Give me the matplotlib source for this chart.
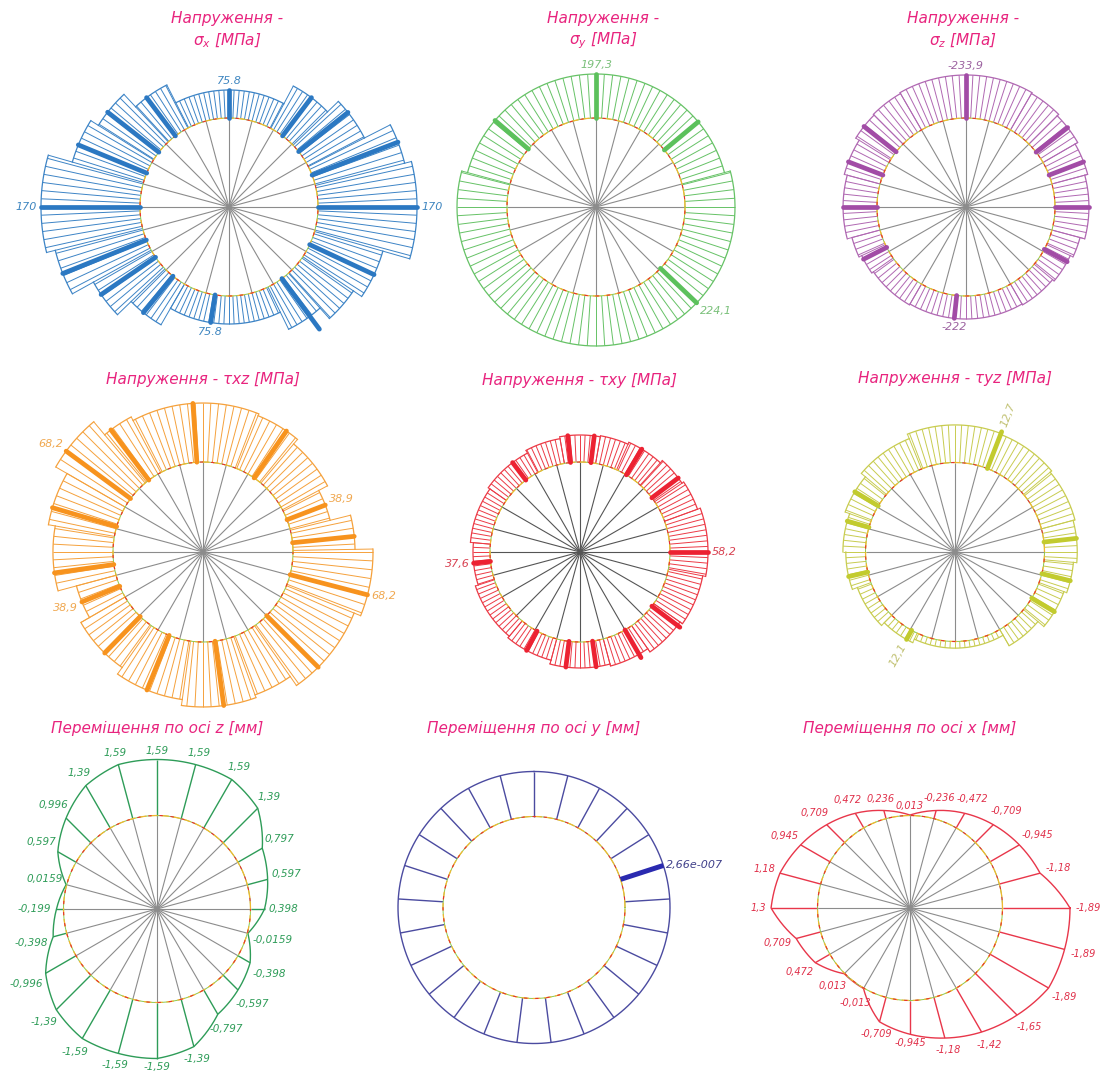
import numpy as np
import matplotlib
matplotlib.use("Agg")
import matplotlib.pyplot as plt
from matplotlib.collections import LineCollection

# ---------------- data ----------------
# Stress diagrams: element blocks are given by boundary angles (deg, CCW from +x)
# and one value per block; "peak" lists hold the highlighted radial bars.

# sigma_x, MPa
sx_edges = [-16, 14, 27, 44, 62, 117, 133, 148, 164, 194, 209, 224, 240, 296, 312, 326, 344]
sx_vals = [170, 160.7, 122.2, 102.3, 75.8, 102.3, 124.9, 136.8, 170, 158.1, 126.2, 101.0,
           75.8, 101.0, 119.6, 132.9]
sx_peak_ang = [0, 21, 38.5, 53, 90, 127, 142, 157.6, 180, 201.8, 214.4, 231, 261, 306.5, 335]
sx_peak_val = [170, 160.7, 122.2, 102.3, 75.8, 102.3, 124.9, 136.8, 170, 158.1, 126.2, 101.0,
               75.8, 122.2, 132.9]
sx_peak_lab = [1, 0, 0, 0, 1, 0, 0, 0, 1, 0, 0, 0, 1, 0, 0]

# sigma_y, MPa
sy_edges = [15, 165, 375]
sy_vals = [197.3, 224.1]
sy_peak_ang = [39.8, 90, 139.4, 316.4]
sy_peak_val = [197.3, 197.3, 197.3, 224.1]
sy_peak_lab = [0, 1, 0, 1]

# sigma_z, MPa
sz_edges = [-15, 15, 30, 45, 60, 120, 135, 148, 165, 195, 205, 215, 240, 300, 320, 335, 345]
sz_vals = [-228.5, -230.3, -232.1, -233.3, -233.9, -233.3, -232.7, -230.3, -228.5, -225.6,
           -223.8, -222.6, -222.0, -222.6, -223.8, -225.6]
sz_peak_ang = [0, 21, 38, 90, 141.7, 159, 180, 207, 264, 331.6]
sz_peak_val = [-228.5, -230.3, -232.1, -233.9, -232.7, -230.3, -228.5, -223.8, -222.0, -223.8]
sz_peak_lab = [0, 0, 0, 1, 0, 0, 0, 0, 1, 0]

# tau_xz, MPa
txz_edges = [-22, 1, 14, 28, 50, 68, 118, 130, 150, 170, 195, 210, 235, 262, 290, 305, 338]
txz_vals = [68.2, 54.7, 38.9, 46.4, 50.9, 52.4, 55.4, 68.2, 58.4, 53.2, 38.9, 46.4, 52.4,
            56.9, 54.7, 62.9]
txz_peak_ang = [5.9, 21, 55.4, 93.9, 127, 143.6, 163.6, 188, 202.4, 225.8, 247.9, 277.7, 315, 345.4]
txz_peak_val = [54.7, 38.9, 50.9, 52.4, 55.4, 68.2, 58.4, 53.2, 38.9, 46.4, 52.4, 56.9, 62.9, 68.2]
txz_peak_lab = [0, 1, 0, 0, 0, 1, 0, 0, 1, 0, 0, 0, 0, 1]

# tau_xy, MPa
txy_edges = [-11, 20, 34, 48, 66, 80, 100, 118, 145, 175, 198, 230, 255, 285, 305, 325, 349]
txy_vals = [58.2, 55.3, 53.3, 50.4, 48.4, 47.4, 45.5, 42.5, 40.5, 37.6, 40.5, 42.5, 46.4,
            48.4, 52.3, 55.3]
txy_peak_ang = [0, 37, 59, 83, 96, 127, 186, 241.5, 263, 278, 300, 323]
txy_peak_val = [58.2, 53.3, 50.4, 47.4, 47.4, 42.5, 37.6, 42.5, 46.4, 46.4, 52.3, 55.3]
txy_peak_lab = [1, 0, 0, 0, 0, 0, 1, 0, 0, 0, 0, 0]

# tau_yz, MPa
tyz_edges = [-5, 15, 40, 69, 112, 140, 160, 180, 200, 225, 245, 300, 320, 340, 355]
tyz_vals = [12.56, 12.60, 12.64, 12.66, 12.56, 12.45, 12.35, 12.29, 12.18, 12.10, 12.02,
            12.27, 12.43, 12.49]
tyz_peak_ang = [6.4, 68.8, 149, 164, 193, 241, 329, 346]
tyz_peak_val = [12.56, 12.7, 12.45, 12.35, 12.29, 12.1, 12.43, 12.49]
tyz_peak_lab = [0, 1, 0, 0, 0, 1, 0, 0]

# Displacements, mm, at nodes around the ring (deg, CCW from +x)
uz_ang = list(range(0, 360, 15))
uz_vals = [0.398, 0.597, 0.797, 1.39, 1.59, 1.59, 1.59, 1.59, 1.39, 0.996, 0.597, 0.0159,
           -0.199, -0.398, -0.996, -1.39, -1.59, -1.59, -1.59, -1.39, -0.797, -0.597,
           -0.398, -0.0159]

uy_ang = [90 - 14.4 * i for i in range(25)]
uy_vals = [2.66e-7] * 25
uy_peak = 5

ux_ang = list(range(0, 360, 15))
ux_vals = [-1.89, -1.18, -0.945, -0.709, -0.472, -0.236, 0.013, 0.236, 0.472, 0.709, 0.945,
           1.18, 1.3, 0.709, 0.472, 0.013, -0.013, -0.709, -0.945, -1.18, -1.42, -1.65,
           -1.89, -1.89]

# ---------------- styling / layout ----------------
W, H = 1107, 1073
TITLE_C = "#e8247e"
GREY = "#8c8c8c"
col_bounds = [0, 369, 738, 1107]
row_bounds = [0, 357, 715, 1073]

fig = plt.figure(figsize=(W / 100, H / 100), dpi=100)
plt.rcParams["font.family"] = ["DejaVu Sans"]


def panel_axes(col, row, cx, cy):
    x0, x1 = col_bounds[col], col_bounds[col + 1]
    y0, y1 = row_bounds[row], row_bounds[row + 1]
    ax = fig.add_axes([x0 / W, 1 - y1 / H, (x1 - x0) / W, (y1 - y0) / H])
    ax.set_xlim(x0 - cx, x1 - cx)
    ax.set_ylim(cy - y1, cy - y0)
    ax.set_axis_off()
    return ax


def radial_scale(v1, r1, v2, r2):
    k = (r2 - r1) / (v2 - v1)
    return lambda v: r1 + (np.abs(np.asarray(v, float)) - v1) * k


def fmt(v, sep=","):
    if v != 0 and abs(v) < 1e-3:
        m, e = f"{v:.2e}".split("e")
        s = f"{m}e{int(e):+04d}"
    else:
        s = f"{v:g}"
    return s.replace(".", sep)


def pol(r, ang):
    t = np.deg2rad(ang)
    return r * np.cos(t), r * np.sin(t)


def add_lines(ax, segs, color, lw, cap="butt", z=2):
    lc = LineCollection(segs, colors=color, linewidths=lw, capstyle=cap, zorder=z)
    lc.set_clip_on(False)
    ax.add_collection(lc)


def grey_spokes(ax, R, color=GREY, lw=0.8):
    segs = []
    for a in range(0, 360, 15):
        x, y = pol(R, a)
        segs.append([(0, 0), (x, y)])
    add_lines(ax, segs, color, lw, z=1)


def inner_ring(ax, R):
    t = np.linspace(0, 360, 721)
    x, y = pol(R, t)
    ax.plot(x, y, color="#8cc850", lw=0.7, zorder=3, clip_on=False)
    ax.plot(x, y, color="#f0b830", lw=0.9, ls=(0, (6, 3)), zorder=3, clip_on=False)
    ax.plot(x, y, color="#e83030", lw=0.8, ls=(3, (3, 7)), zorder=3, clip_on=False)


def place_label(ax, ang, r, text, color, pad=4, rotate=False, size=8):
    x, y = pol(r + pad, ang)
    c, s = np.cos(np.deg2rad(ang)), np.sin(np.deg2rad(ang))
    if rotate:
        rot = ang if c >= 0 else ang - 180
        ax.text(x, y, text, rotation=rot, rotation_mode="anchor",
                ha="left" if c >= 0 else "right", va="center", color=color,
                fontsize=size, style="italic", clip_on=False)
        return
    ha = "left" if c > 0.2 else ("right" if c < -0.2 else "center")
    va = "bottom" if s > 0.35 else ("top" if s < -0.35 else "center")
    ax.text(x, y, text, ha=ha, va=va, color=color, fontsize=size,
            style="italic", clip_on=False)


def place_label_centered(ax, ang, r, text, color, pad=5, size=7):
    # centre the text just outside the node, allowing for its approximate extent
    c, s = np.cos(np.deg2rad(ang)), np.sin(np.deg2rad(ang))
    px = size * 100 / 72
    tw, th = 0.55 * px * len(text), 0.75 * px
    off = pad + 0.5 * (abs(c) * tw + abs(s) * th)
    x, y = pol(r + off, ang)
    ax.text(x, y, text, ha="center", va="center", color=color, fontsize=size,
            style="italic", clip_on=False)


def stress_panel(ax, R_in, edges, vals, pk_ang, pk_val, pk_lab, scale, thin, thick,
                 lab_c, sep=",", step=2.5, spoke_c=GREY, rotate=False):
    e = np.asarray(edges, float)
    rr = scale(vals)
    grey_spokes(ax, R_in, spoke_c)
    # fine radial lines of the element mesh
    fine = np.arange(0, 360, step)
    fine = e[0] + (fine - e[0]) % 360
    idx = np.clip(np.searchsorted(e, fine, side="right") - 1, 0, len(vals) - 1)
    segs = []
    for a, i in zip(fine, idx):
        segs.append([pol(R_in, a), pol(rr[i], a)])
    # block boundaries (steps)
    for i in range(len(vals)):
        rmax = max(rr[i], rr[i - 1])
        segs.append([pol(R_in, e[i]), pol(rmax, e[i])])
    add_lines(ax, segs, thin, 0.7)
    # outer arcs
    for i in range(len(vals)):
        t = np.linspace(e[i], e[i + 1], max(4, int(abs(e[i + 1] - e[i]) * 2)))
        x, y = pol(rr[i], t)
        ax.plot(x, y, color=thin, lw=0.9, clip_on=False, zorder=2)
    # highlighted bars
    pr = scale(pk_val)
    segs = [[pol(R_in, a), pol(r, a)] for a, r in zip(pk_ang, pr)]
    add_lines(ax, segs, thick, 3.4, cap="round", z=4)
    inner_ring(ax, R_in)
    for a, v, r, lab in zip(pk_ang, pk_val, pr, pk_lab):
        if lab:
            place_label(ax, a, r, fmt(v, sep), lab_c, pad=4 if not rotate else 6,
                        rotate=rotate)


def disp_panel(ax, R_in, angs, vals, scale, color, lab_c, grey=True, peak=None,
               peak_c=None, labels=True, size=7.5):
    if grey:
        grey_spokes(ax, R_in)
    rr = scale(vals)
    segs = [[pol(R_in, a), pol(r, a)] for a, r in zip(angs, rr)]
    add_lines(ax, segs, color, 1.0)
    # outer contour through node values (radius varies linearly between nodes)
    a_cl = np.r_[angs, angs[0] + (360 if angs[1] > angs[0] else -360)]
    r_cl = np.r_[rr, rr[0]]
    xs, ys = [], []
    for i in range(len(angs)):
        t = np.linspace(0, 1, 16)
        a = a_cl[i] + (a_cl[i + 1] - a_cl[i]) * t
        r = r_cl[i] + (r_cl[i + 1] - r_cl[i]) * t
        x, y = pol(r, a)
        xs.append(x)
        ys.append(y)
    ax.plot(np.concatenate(xs), np.concatenate(ys), color=color, lw=1.0, clip_on=False)
    inner_ring(ax, R_in)
    if peak is not None:
        add_lines(ax, [[pol(R_in, angs[peak]), pol(rr[peak], angs[peak])]], peak_c, 3.6,
                  cap="butt", z=4)
        place_label(ax, angs[peak], rr[peak], fmt(vals[peak]), lab_c, pad=3)
    if labels:
        for a, v, r in zip(angs, vals, rr):
            place_label_centered(ax, a, r, fmt(v), lab_c, size=size)


def title(ax, cy, lines, ys, dx=0):
    for txt, y in zip(lines, ys):
        ax.text(dx, cy - y, txt, ha="center", va="center", color=TITLE_C,
                fontsize=11, style="italic", clip_on=False)


# ---------------- row 1: normal stresses ----------------
ax = panel_axes(0, 0, 229, 207)
stress_panel(ax, 89, sx_edges, sx_vals, sx_peak_ang, sx_peak_val, sx_peak_lab,
             radial_scale(75.8, 117, 170, 188), "#3d84c6", "#2b78c2", "#3f86c0", sep=".")
title(ax, 207, ["Напруження -", r"$\sigma_x$ [МПа]"], [18, 41], dx=-2)

ax = panel_axes(1, 0, 596, 207)
stress_panel(ax, 89, sy_edges, sy_vals, sy_peak_ang, sy_peak_val, sy_peak_lab,
             radial_scale(197.3, 133, 224.1, 139), "#66c266", "#5cc15c", "#7ac07a", step=3.6)
title(ax, 207, ["Напруження -", r"$\sigma_y$ [МПа]"], [18, 41], dx=7)

ax = panel_axes(2, 0, 966, 207)
stress_panel(ax, 89, sz_edges, sz_vals, sz_peak_ang, sz_peak_val, sz_peak_lab,
             radial_scale(222.0, 112, 233.9, 132), "#b068b2", "#a24ca6", "#9c62a0", step=3.0)
title(ax, 207, ["Напруження -", r"$\sigma_z$ [МПа]"], [18, 41], dx=-3)

# ---------------- row 2: shear stresses ----------------
ax = panel_axes(0, 1, 203, 552)
stress_panel(ax, 90, txz_edges, txz_vals, txz_peak_ang, txz_peak_val, txz_peak_lab,
             radial_scale(38.9, 131, 68.2, 170), "#f5a13c", "#f7931e", "#f0a850", step=3.0)
title(ax, 552, ["Напруження - τxz [МПа]"], [379])

ax = panel_axes(1, 1, 580, 552)
stress_panel(ax, 90, txy_edges, txy_vals, txy_peak_ang, txy_peak_val, txy_peak_lab,
             radial_scale(37.6, 107, 58.2, 128), "#ec3a46", "#ec2232", "#d84050",
             step=2.5, spoke_c="#555555")
title(ax, 552, ["Напруження - τxy [МПа]"], [380])

ax = panel_axes(2, 1, 955, 552)
stress_panel(ax, 89.5, tyz_edges, tyz_vals, tyz_peak_ang, tyz_peak_val, tyz_peak_lab,
             radial_scale(12.1, 100, 12.7, 129), "#c8cc50", "#c2cb2e", "#c0c070",
             step=3.0, rotate=True)
title(ax, 552, ["Напруження - τyz [МПа]"], [378])

# ---------------- row 3: displacements ----------------
ax = panel_axes(0, 2, 157, 909)
disp_panel(ax, 93.5, uz_ang, uz_vals, radial_scale(0, 93.5, 1.59, 149.5), "#2e9c58", "#2e9c58",
           size=7.5)
title(ax, 909, ["Переміщення по осі z [мм]"], [728])

ax = panel_axes(1, 2, 534, 907.5)
disp_panel(ax, 91, uy_ang, uy_vals, radial_scale(0, 91, 2.66e-7, 136), "#4b4ba0", "#40408a",
           grey=False, peak=uy_peak, peak_c="#2a2ab0", labels=False)
title(ax, 907.5, ["Переміщення по осі y [мм]"], [728])

ax = panel_axes(2, 2, 910, 908)
disp_panel(ax, 92.5, ux_ang, ux_vals, radial_scale(0, 92.5, 1.89, 160), "#e8364a", "#e0304a",
           size=7)
title(ax, 908, ["Переміщення по осі x [мм]"], [728])

fig.savefig("out.png", dpi=100, facecolor="white")
